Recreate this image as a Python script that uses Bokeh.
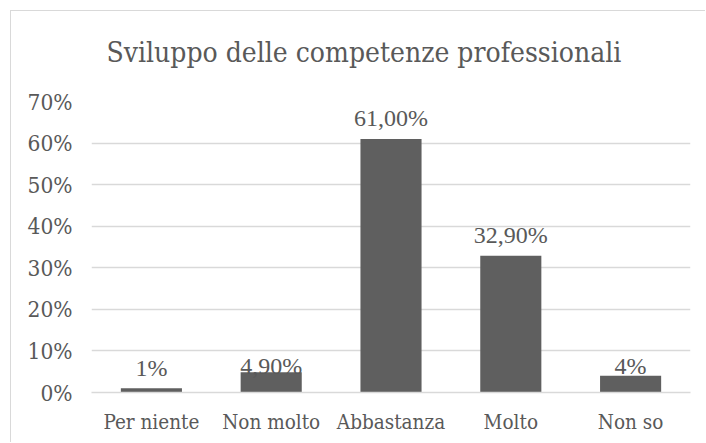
from bokeh.plotting import figure
from bokeh.models import ColumnDataSource, Range1d, FixedTicker, NumeralTickFormatter, LabelSet
from bokeh.embed import file_html
from bokeh.resources import INLINE

categories = ["Per niente", "Non molto", "Abbastanza", "Molto", "Non so"]
values = [0.01, 0.049, 0.61, 0.329, 0.04]
value_labels = ["1%", "4,90%", "61,00%", "32,90%", "4%"]
y_ticks = [0.0, 0.1, 0.2, 0.3, 0.4, 0.5, 0.6, 0.7]
title_text = "Sviluppo delle competenze professionali"

# style: vertical pixel offsets of the value labels
label_offsets = [12, -2, 13, 13, 2]

TEXT = "#595959"
GRID = "#d9d9d9"
FONT = "DejaVu Serif Condensed"

source = ColumnDataSource(dict(cat=categories, val=values, lab=value_labels, off=label_offsets))

p = figure(x_range=categories, y_range=Range1d(0, 0.7),
           frame_width=599, frame_height=291,
           min_border_left=80, min_border_right=15, min_border_top=90, min_border_bottom=50,
           output_backend="svg", toolbar_location=None,
           title=title_text + "\n")
p.styles = {"margin-left": "10px", "margin-top": "10px",
            "border-left": "1px solid #d9d9d9", "border-top": "1px solid #d9d9d9"}

p.x_range.range_padding = 0
p.vbar(x="cat", top="val", width=0.51, source=source, fill_color="#5f5f5f", line_color=None)

labels = LabelSet(x="cat", y="val", text="lab", y_offset="off", source=source,
                  text_align="center", text_baseline="alphabetic",
                  text_font=FONT, text_font_size="24px", text_color=TEXT)
p.add_layout(labels)

p.title.text_font = FONT
p.title.text_font_size = "28px"
p.title.text_font_style = "normal"
p.title.text_color = TEXT
p.title.align = "left"
p.title.offset = 15
p.title.standoff = 0

p.outline_line_color = None
p.background_fill_color = "white"
p.border_fill_color = "white"

p.xgrid.grid_line_color = None
p.ygrid.grid_line_color = GRID
p.ygrid.grid_line_width = 1.3

p.yaxis.ticker = FixedTicker(ticks=y_ticks)
p.yaxis.formatter = NumeralTickFormatter(format="0%")
p.yaxis.axis_line_color = None
p.yaxis.major_tick_line_color = None
p.yaxis.minor_tick_line_color = None
p.yaxis.major_label_standoff = 13
p.yaxis.major_label_text_font = FONT
p.yaxis.major_label_text_font_size = "22.5px"
p.yaxis.major_label_text_color = TEXT

p.xaxis.axis_line_color = GRID
p.xaxis.axis_line_width = 1.3
p.xaxis.major_tick_line_color = None
p.xaxis.minor_tick_line_color = None
p.xaxis.major_label_standoff = 11
p.xaxis.major_label_text_font = FONT
p.xaxis.major_label_text_font_size = "20.5px"
p.xaxis.major_label_text_color = TEXT

open("out.html", "w").write(file_html(p, INLINE))
